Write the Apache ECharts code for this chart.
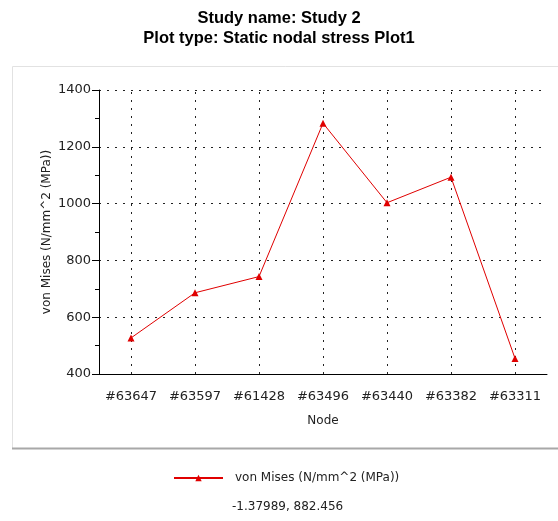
<!DOCTYPE html>
<html>
<head>
<meta charset="utf-8">
<script src="https://cdn.jsdelivr.net/npm/echarts@6/dist/echarts.min.js"></script>
<style>html,body{margin:0;padding:0;background:#fff;}#c{width:558px;height:521px;}</style>
</head>
<body>
<div id="c"></div>
<script>
var nodes = ['#63647', '#63597', '#61428', '#63496', '#63440', '#63382', '#63311'];
var vonMises = [527, 686, 743, 1283, 1003, 1093, 455];
var yTicks = { min: 400, max: 1400, interval: 200 };
var seriesName = 'von Mises (N/mm^2 (MPa))';
var titleLines = ['Study name: Study 2', 'Plot type: Static nodal stress Plot1'];
var footerText = '-1.37989, 882.456';

var chart = echarts.init(document.getElementById('c'), null, { renderer: 'canvas' });
var dot = { color: '#222', width: 1, type: [2, 6] };
chart.setOption({
  animation: false,
  backgroundColor: '#fff',
  textStyle: { fontFamily: 'DejaVu Sans' },
  title: {
    text: titleLines.join('\n'),
    left: 'center', top: 3,
    textStyle: { fontFamily: 'Liberation Sans', fontSize: 16.5, fontWeight: 'bold', color: '#000', lineHeight: 20 }
  },
  graphic: [
    { type: 'rect', shape: { x: 12.5, y: 66.5, width: 560, height: 382 }, style: { fill: 'none', stroke: '#e2e2e2', lineWidth: 1 }, z: -1 },
    { type: 'line', shape: { x1: 12, y1: 448.5, x2: 558, y2: 448.5 }, style: { stroke: '#a8a8a8', lineWidth: 2 }, z: -1 },
    { type: 'text', left: 232, top: 501, style: { text: footerText, font: '12px "DejaVu Sans"', fill: '#222' } }
  ],
  legend: {
    data: [seriesName],
    left: 168, top: 467,
    itemWidth: 49, itemHeight: 8,
    textStyle: { fontSize: 12, color: '#222', padding: [0, 0, 0, 7] }
  },
  grid: { left: 99, right: 11, top: 90, bottom: 147, containLabel: false },
  xAxis: {
    type: 'category',
    data: nodes,
    boundaryGap: true,
    name: 'Node', nameLocation: 'middle', nameGap: 41,
    nameTextStyle: { fontSize: 12, color: '#222' },
    axisLine: { lineStyle: { color: '#000', width: 1 } },
    axisTick: { alignWithLabel: true, length: 4, lineStyle: { color: '#000' } },
    axisLabel: { interval: 0, fontSize: 13, color: '#222', margin: 16 },
    splitLine: { show: false }
  },
  yAxis: {
    type: 'value',
    min: yTicks.min, max: yTicks.max, interval: yTicks.interval,
    name: seriesName, nameLocation: 'middle', nameGap: 46, nameMoveOverlap: false,
    nameTextStyle: { fontSize: 12, color: '#222' },
    axisLine: { show: true, lineStyle: { color: '#000', width: 1 } },
    axisTick: { show: true, length: 7, lineStyle: { color: '#000' } },
    minorTick: { show: true, splitNumber: 2, length: 4, lineStyle: { color: '#000' } },
    axisLabel: { fontSize: 13, color: '#222', margin: 8, formatter: function (v) { return String(v); } },
    splitLine: { show: true, lineStyle: dot }
  },
  series: [{
    name: seriesName,
    type: 'line',
    data: vonMises,
    symbol: 'triangle', symbolSize: 7,
    itemStyle: { color: '#e00000' },
    lineStyle: { color: '#e00000', width: 1 },
    markLine: {
      silent: true, symbol: 'none', label: { show: false },
      lineStyle: dot, emphasis: { disabled: true },
      data: nodes.map(function (n) { return [{ xAxis: n, yAxis: yTicks.min }, { xAxis: n, yAxis: yTicks.max }]; }),
      z: 1
    }
  }]
});
</script>
</body>
</html>
